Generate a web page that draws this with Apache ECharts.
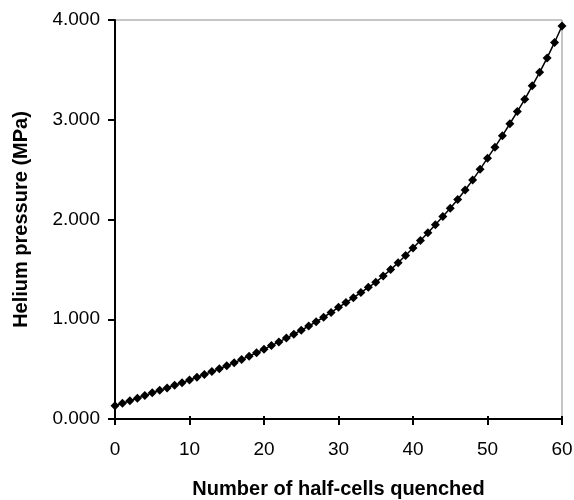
<!DOCTYPE html>
<html>
<head>
<meta charset="utf-8">
<script src="https://cdn.jsdelivr.net/npm/echarts@6/dist/echarts.min.js"></script>
<style>html,body{margin:0;padding:0;background:#fff}#c{width:574px;height:500px}</style>
</head>
<body>
<div id="c"></div>
<script>
var halfCells = [];
for (var i = 0; i <= 60; i++) halfCells.push(i);
var pressure = [
  0.133, 0.158, 0.183, 0.208, 0.236, 0.262, 0.287, 0.312, 0.338, 0.364,
  0.390, 0.418, 0.446, 0.475, 0.504, 0.534, 0.565, 0.597, 0.630, 0.664,
  0.700, 0.736, 0.773, 0.811, 0.850, 0.890, 0.932, 0.975, 1.020, 1.068,
  1.120, 1.167, 1.216, 1.267, 1.320, 1.370, 1.434, 1.498, 1.566, 1.640,
  1.715, 1.790, 1.868, 1.948, 2.030, 2.112, 2.200, 2.295, 2.395, 2.503,
  2.615, 2.725, 2.840, 2.960, 3.082, 3.205, 3.340, 3.475, 3.620, 3.775,
  3.940
];
var xTicks = [0, 10, 20, 30, 40, 50, 60];
var yTicks = [0, 1, 2, 3, 4];
var xTitle = 'Number of half-cells quenched';
var yTitle = 'Helium pressure (MPa)';

var chart = echarts.init(document.getElementById('c'), null, {renderer: 'canvas'});
var font = 'Liberation Sans, Arial, sans-serif';
chart.setOption({
  animation: false,
  backgroundColor: '#fff',
  grid: {left: 115, right: 12, top: 20, bottom: 81, containLabel: false, outerBoundsMode: 'none',
    show: true, borderColor: '#8c8c8c', borderWidth: 1, backgroundColor: 'transparent'},
  xAxis: [{
    type: 'value', min: xTicks[0], max: xTicks[xTicks.length - 1], interval: 10,
    name: xTitle, nameLocation: 'middle', nameGap: 60,
    nameTextStyle: {fontFamily: font, fontSize: 20, fontWeight: 'bold', color: '#000'},
    axisLine: {show: true, lineStyle: {color: '#000', width: 2}},
    axisTick: {show: true, length: 6, lineStyle: {color: '#000', width: 2}},
    axisLabel: {fontFamily: font, fontSize: 19, color: '#000', margin: 21},
    splitLine: {show: false}
  }, {
    type: 'value', min: xTicks[0], max: xTicks[xTicks.length - 1], interval: 10,
    position: 'bottom', gridIndex: 0,
    axisLine: {show: false},
    axisTick: {show: true, inside: true, length: 3, lineStyle: {color: '#000', width: 2}},
    axisLabel: {show: false},
    splitLine: {show: false}
  }],
  yAxis: {
    type: 'value', min: yTicks[0], max: yTicks[yTicks.length - 1], interval: 1,
    name: yTitle, nameLocation: 'middle', nameGap: 84, nameRotate: 90,
    nameTextStyle: {fontFamily: font, fontSize: 20, fontWeight: 'bold', color: '#000'},
    axisLine: {show: true, lineStyle: {color: '#000', width: 2}},
    axisTick: {show: true, length: 7, lineStyle: {color: '#000', width: 2}},
    axisLabel: {fontFamily: font, fontSize: 19, color: '#000', margin: 15,
      formatter: function (v) { return v.toFixed(3); }},
    splitLine: {show: false}
  },
  series: [{
    type: 'line',
    xAxisIndex: 0,
    data: halfCells.map(function (x, i) { return [x, pressure[i]]; }),
    symbol: 'diamond', symbolSize: 9, showAllSymbol: true,
    itemStyle: {color: '#000'},
    lineStyle: {color: '#000', width: 1.5},
    clip: false
  }]
});
</script>
</body>
</html>
